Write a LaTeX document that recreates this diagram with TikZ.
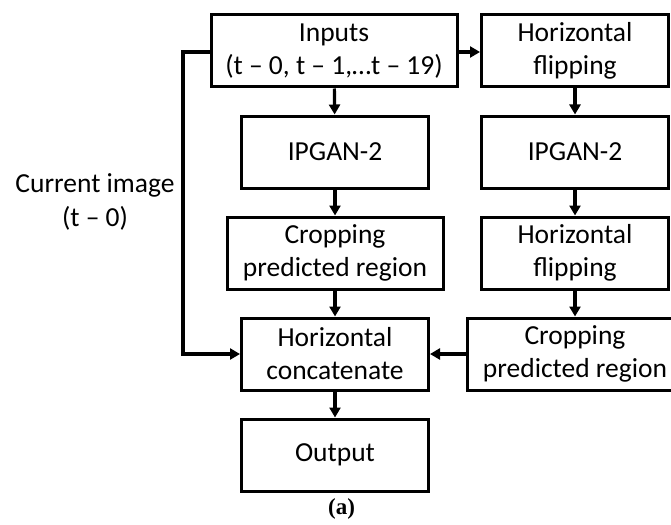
\documentclass[tikz,border=0pt]{standalone}
\usepackage{fontspec}
\setmainfont{Carlito}
\newfontfamily\capfont{Liberation Serif}
\usetikzlibrary{arrows.meta}
\begin{document}
\begin{tikzpicture}[x=1pt,y=-1pt,
  box/.style={draw, line width=3pt, minimum height=72pt, inner sep=0pt,
    align=center, font=\fontsize{27.5}{33}\selectfont},
  narrow/.style={box, minimum width=187pt},
  wide/.style={box, minimum width=216pt},
  flow/.style={line width=3.2pt, -{Triangle[length=10pt,width=11pt]}},
  lbl/.style={align=center, font=\fontsize{27.5}{34}\selectfont}]
\useasboundingbox (0,0) rectangle (671,524);
% left column
\node[box, minimum width=246pt] (in) at (334,51) {Inputs\\(t – 0, t – 1,…t – 19)};
\node[narrow] (gl) at (335,152) {IPGAN-2};
\node[wide] (cl) at (335,253) {Cropping\\predicted region};
\node[narrow] (cat) at (335,354) {Horizontal\\concatenate};
\node[narrow] (out) at (335,455) {Output};
% right column
\node[narrow] (f1) at (575,51) {Horizontal\\flipping};
\node[narrow] (gr) at (575,152) {IPGAN-2};
\node[narrow] (f2) at (575,253) {Horizontal\\flipping};
\node[wide] (cr) at (575,354) {Cropping\\predicted region};
% side label and caption
\node[lbl] (cur) at (95,202) {Current image\\(t – 0)};
\node (sub) at (341.5,509) {\capfont\bfseries\fontsize{23}{26}\selectfont (a)};
% connectors
\draw[flow] (in) -- (gl);
\draw[flow] (gl) -- (cl);
\draw[flow] (cl) -- (cat);
\draw[flow] (cat) -- (out);
\draw[flow] (in.east |- 0,52) -- (f1.west |- 0,52);
\draw[flow] (f1) -- (gr);
\draw[flow] (gr) -- (f2);
\draw[flow] (f2) -- (cr);
\draw[flow] (cr) -- (cat);
\coordinate (bt) at (183,52);
\coordinate (bb) at (183,354);
\draw[flow] (in.west |- bt) -- (bt) -- (bb) -- (cat.west);
\end{tikzpicture}
\end{document}
